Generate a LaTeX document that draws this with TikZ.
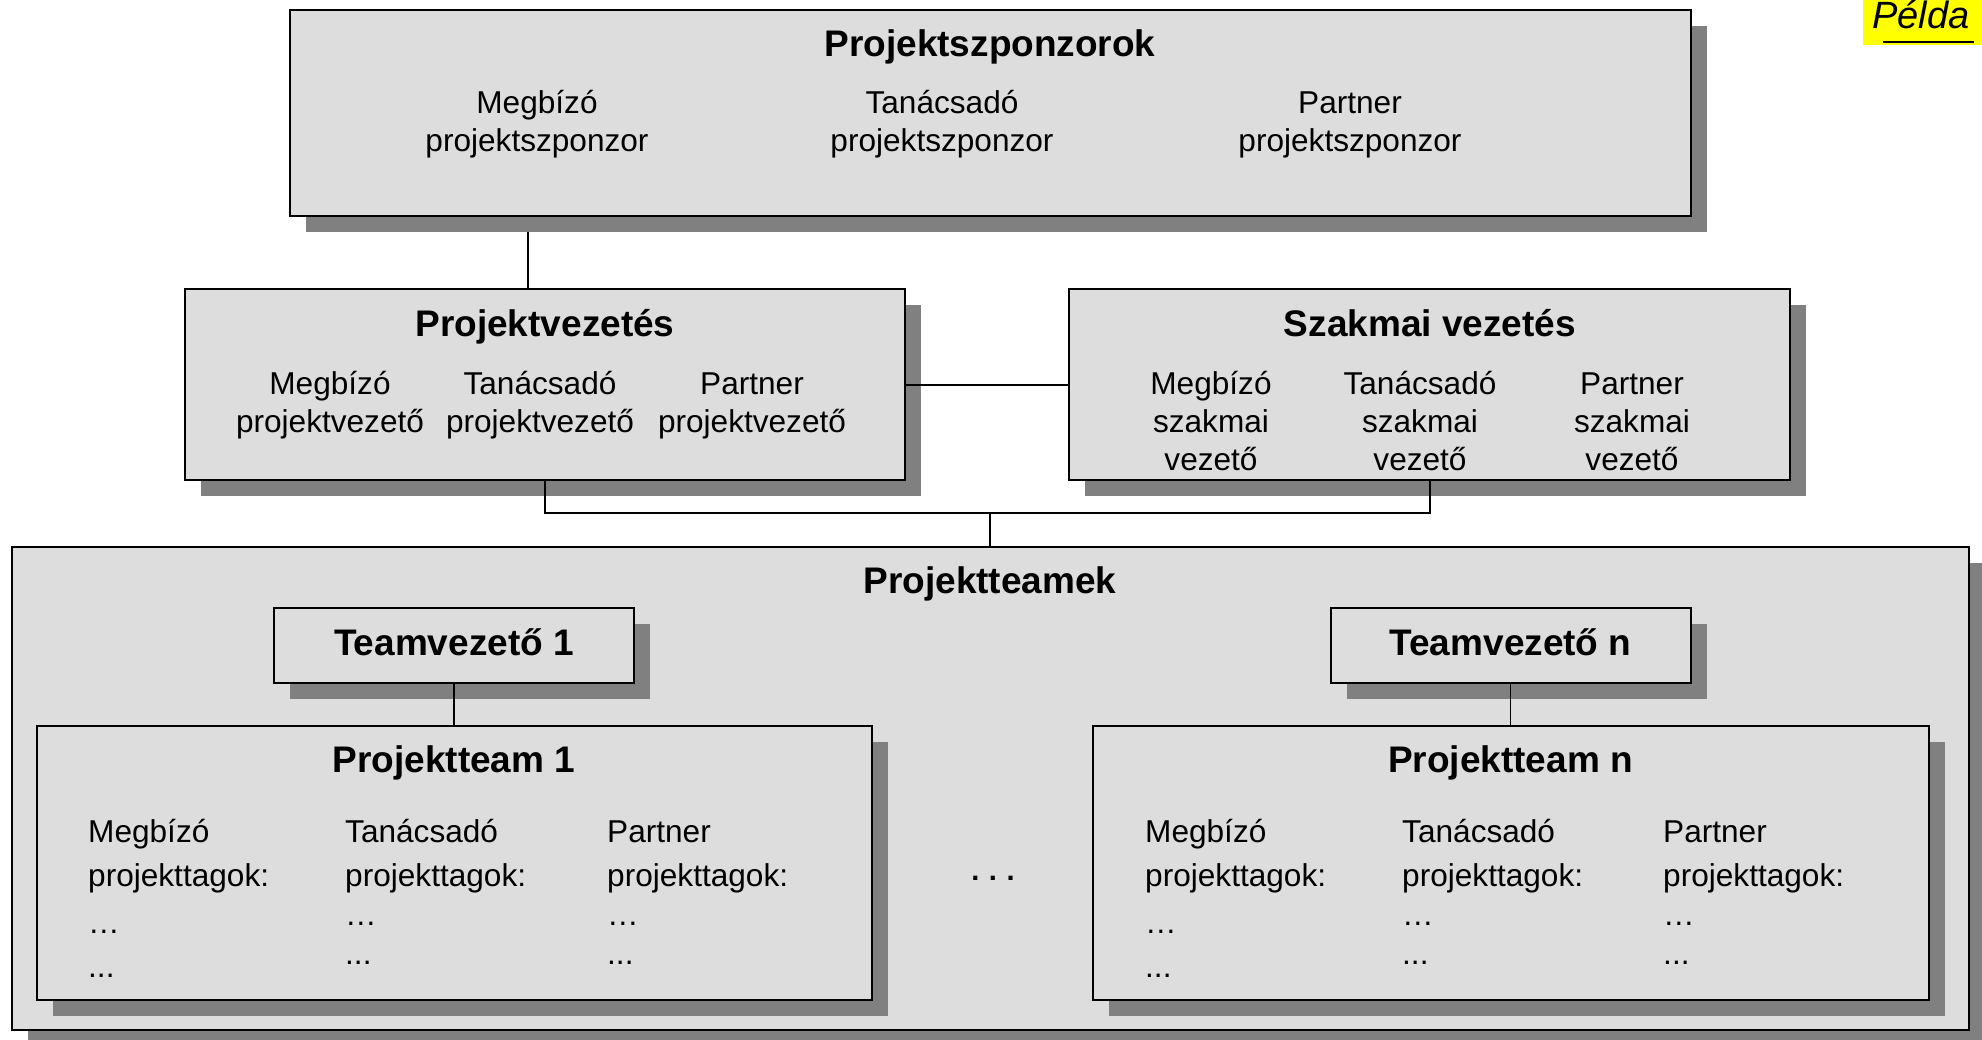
\documentclass[tikz,border=0pt]{standalone}
\usepackage{fontspec}
\setmainfont{Liberation Sans}
\usetikzlibrary{shadows,calc}
\definecolor{boxfill}{RGB}{221,221,221}
\definecolor{shade}{RGB}{128,128,128}
\definecolor{marker}{RGB}{255,255,0}
\pgfdeclarelayer{behind}
\pgfsetlayers{behind,main}
\begin{document}
\begin{tikzpicture}[x=1pt,y=-1pt,
  panel/.style={draw=black, line width=2pt, fill=boxfill, rectangle, inner sep=0pt,
    drop shadow={shadow xshift=16pt, shadow yshift=-16pt, fill=shade, opacity=1}},
  heading/.style={font=\bfseries\fontsize{37}{44}\selectfont, inner sep=0pt, anchor=base},
  sub/.style={font=\fontsize{31.6}{38}\selectfont, align=center, inner sep=0pt, anchor=base},
  members/.style={font=\fontsize{31.6}{44.5}\selectfont, align=left, inner sep=0pt, anchor=base west},
  link/.style={draw=black, line width=2pt},
  thinlink/.style={draw=black, line width=1.5pt}]

\begin{pgfonlayer}{behind}
  \fill[white] (0,0) rectangle (1982,1040);
\end{pgfonlayer}
\useasboundingbox (0,0) rectangle (1982,1040);

% sample marker
\node[fill=marker, inner sep=0pt, minimum width=119pt, minimum height=45pt] (pbox) at (1922.5,22.5) {};
\node[font=\itshape\fontsize{38}{40}\selectfont, inner sep=0pt, anchor=base west] (pelda) at (1872,29) {Példa};
\draw[line width=2.5pt] ($(pelda.base west)+(11,13)$) -- ($(pelda.base east)+(4,13)$);

% sponsors (multi-line texts are anchored at the baseline of their last line)
\node[panel, minimum width=1401.5pt, minimum height=206.5pt] (spons) at (990.25,113.25) {};
\node[heading] (t-spons) at (990,57) {Projektszponzorok};
\node[sub] (s-m) at (537,152) {Megbízó\\projektszponzor};
\node[sub] (s-t) at (942,152) {Tanácsadó\\projektszponzor};
\node[sub] (s-p) at (1350,152) {Partner\\projektszponzor};

% project management
\node[panel, minimum width=720.5pt, minimum height=190.5pt] (pv) at (544.75,384.75) {};
\node[heading] (t-pv) at (545,337) {Projektvezetés};
\node[sub] (pv-m) at (330,433) {Megbízó\\projektvezető};
\node[sub] (pv-t) at (540,433) {Tanácsadó\\projektvezető};
\node[sub] (pv-p) at (752,433) {Partner\\projektvezető};

% professional management
\node[panel, minimum width=721pt, minimum height=190.5pt] (sv) at (1429.5,384.75) {};
\node[heading] (t-sv) at (1430,337) {Szakmai vezetés};
\node[sub] (sv-m) at (1211,471) {Megbízó\\szakmai\\vezető};
\node[sub] (sv-t) at (1420,471) {Tanácsadó\\szakmai\\vezető};
\node[sub] (sv-p) at (1632,471) {Partner\\szakmai\\vezető};

% project teams
\node[panel, minimum width=1957.5pt, minimum height=483pt] (teams) at (990.25,788.5) {};
\node[heading] (t-teams) at (990,593) {Projektteamek};

\node[panel, minimum width=360pt, minimum height=75pt] (tv1) at (454,645.5) {};
\node[heading] (t-tv1) at (454,655) {Teamvezető 1};
\node[panel, minimum width=360pt, minimum height=75pt] (tvn) at (1510.5,645.5) {};
\node[heading] (t-tvn) at (1510.5,655) {Teamvezető n};

\node[panel, minimum width=835pt, minimum height=274.5pt] (pt1) at (454,862.75) {};
\node[heading] (t-pt1) at (454,772) {Projektteam 1};
\node[members] (pt1-m) at (88,977.5) {Megbízó\\projekttagok:\\[2pt]…\\...};
\node[members] (pt1-t) at (345,964) {Tanácsadó\\projekttagok:\\[-5.5pt]…\\[-6pt]...};
\node[members] (pt1-p) at (607,964) {Partner\\projekttagok:\\[-5.5pt]…\\[-6pt]...};

\node[panel, minimum width=836pt, minimum height=274.5pt] (ptn) at (1510.5,862.75) {};
\node[heading] (t-ptn) at (1510.5,772) {Projektteam n};
\node[members] (ptn-m) at (1145,977.5) {Megbízó\\projekttagok:\\[2pt]…\\...};
\node[members] (ptn-t) at (1402,964) {Tanácsadó\\projekttagok:\\[-5.5pt]…\\[-6pt]...};
\node[members] (ptn-p) at (1663,964) {Partner\\projekttagok:\\[-5.5pt]…\\[-6pt]...};

\node[font=\bfseries\fontsize{29}{30}\selectfont, inner sep=0pt, anchor=base] (more) at (993,880) {.\,\,.\,\,.};

% connectors
\coordinate (drop) at (528,250);
\coordinate (bus) at (990.25,513);
\begin{pgfonlayer}{behind}
  \draw[link] (drop |- spons.south) -- (drop |- pv.north);
\end{pgfonlayer}
\draw[link] (pv.east) -- (sv.west);
\draw[link] (pv.south) |- (bus) -| (sv.south);
\draw[link] (bus) -- (teams.north);
\draw[thinlink] (tv1.south) -- (pt1.north);
\draw[thinlink] (tvn.south) -- (ptn.north);
\end{tikzpicture}
\end{document}
